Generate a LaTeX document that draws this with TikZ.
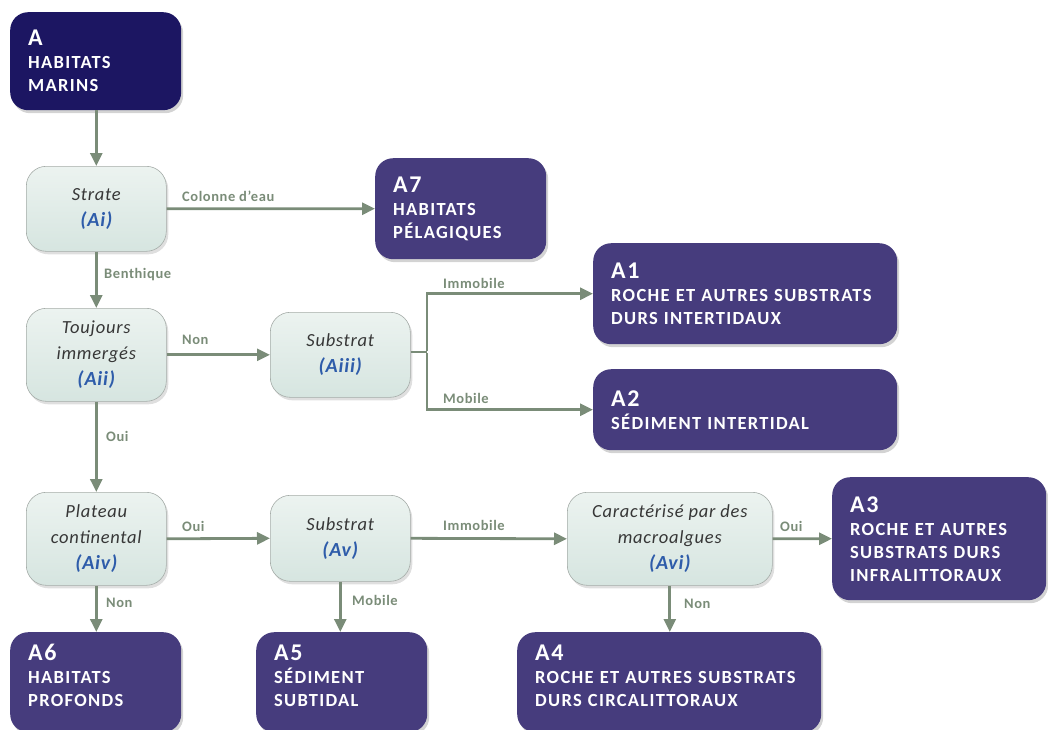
\documentclass[tikz,border=0pt]{standalone}
\usepackage{fontspec}
\setmainfont{Carlito}[UprightFont=Carlito, BoldFont=Carlito Bold, ItalicFont=Carlito Italic, BoldItalicFont=Carlito Bold Italic, LetterSpace=4]
\usetikzlibrary{arrows.meta,shadows}
\definecolor{navy}{RGB}{28,22,98}
\definecolor{purp}{RGB}{70,60,125}
\definecolor{dfill}{RGB}{214,229,224}
\definecolor{dtop}{RGB}{236,243,240}
\definecolor{dborder}{RGB}{165,172,168}
\definecolor{conn}{RGB}{122,140,120}
\definecolor{qblue}{RGB}{46,92,170}
\definecolor{qtext}{RGB}{55,55,55}
\tikzset{
  res/.style={rounded corners=18pt, fill=purp, text=white, anchor=north west,
    align=left, inner xsep=18pt, inner ysep=0pt,
    font=\bfseries\fontsize{18.5}{23}\selectfont\addfontfeature{LetterSpace=7},
    drop shadow={opacity=0.35, shadow xshift=2pt, shadow yshift=-3pt}},
  dec/.style={rounded corners=20pt, draw=dborder, line width=0.6pt,
    top color=dtop, bottom color=dfill, anchor=north west, align=center,
    text=qtext, inner sep=0pt, font=\itshape\fontsize{18.5}{26}\selectfont,
    drop shadow={opacity=0.25, shadow xshift=2pt, shadow yshift=-3pt}},
  conn/.style={draw=conn, line width=2.8pt, -{Triangle[length=13pt,width=12pt]}},
  plain/.style={draw=conn, line width=2.8pt},
  lab/.style={text=conn, font=\bfseries\fontsize{14.5}{16}\selectfont, anchor=west, inner sep=0pt}
}
\newcommand{\ttl}[1]{{\fontsize{24}{23}\selectfont #1}}
\newcommand{\qid}[1]{{\bfseries\color{qblue}\fontsize{20}{26}\selectfont #1}}
\begin{document}
\begin{tikzpicture}[x=1pt,y=-1pt]
\useasboundingbox (0,0) rectangle (1048,729);
% result boxes
\node[res, fill=navy, minimum width=171, minimum height=98, text width=135] (A) at (10,12)
  {\ttl{A}\\HABITATS\\MARINS};
\node[res, minimum width=171, minimum height=101, text width=135] (A7) at (375,158)
  {\ttl{A7}\\HABITATS\\PÉLAGIQUES};
\node[res, minimum width=304, minimum height=101, text width=268] (A1) at (593,243)
  {\ttl{A1}\\ROCHE ET AUTRES SUBSTRATS\\DURS INTERTIDAUX};
\node[res, minimum width=304, minimum height=81, text width=268] (A2) at (593,369)
  {\ttl{A2}\\SÉDIMENT INTERTIDAL};
\node[res, minimum width=214, minimum height=123, text width=178] (A3) at (832,477)
  {\ttl{A3}\\ROCHE ET AUTRES\\SUBSTRATS DURS\\INFRALITTORAUX};
\node[res, minimum width=171, minimum height=100, text width=135, text depth=59pt] (A6) at (10,632)
  {\ttl{A6}\\HABITATS\\PROFONDS};
\node[res, minimum width=171, minimum height=100, text width=135, text depth=59pt] (A5) at (256,632)
  {\ttl{A5}\\SÉDIMENT\\SUBTIDAL};
\node[res, minimum width=304, minimum height=100, text width=268, text depth=59pt] (A4) at (517,632)
  {\ttl{A4}\\ROCHE ET AUTRES SUBSTRATS\\DURS CIRCALITTORAUX};
% decision boxes
\node[dec, minimum width=140, minimum height=85] (Ai) at (26,166) {Strate\\\qid{(Ai)}};
\node[dec, minimum width=140, minimum height=93] (Aii) at (26,308) {Toujours\\immergés\\\qid{(Aii)}};
\node[dec, minimum width=140, minimum height=85] (Aiii) at (270,312) {Substrat\\\qid{(Aiii)}};
\node[dec, minimum width=140, minimum height=93] (Aiv) at (26,492) {Plateau\\continental\\\qid{(Aiv)}};
\node[dec, minimum width=140, minimum height=86] (Av) at (270,495) {Substrat\\\qid{(Av)}};
\node[dec, minimum width=205, minimum height=93] (Avi) at (567,492) {Caractérisé par des\\macroalgues\\\qid{(Avi)}};
% connectors
\draw[conn] (A.south -| Ai.north) -- (Ai.north);
\draw[conn] (Ai.east) -- (A7.west);
\draw[conn] (Ai.south) -- (Aii.north);
\draw[conn] (Aii.east) -- (Aiii.west);
\coordinate (jn) at (427,352);
\draw[plain] (Aiii.east |- jn) -- (jn);
\draw[conn] ([yshift=1.4pt]jn) |- (A1.west);
\draw[conn] ([yshift=-1.4pt]jn) |- (A2.west);
\draw[conn] (Aii.south) -- (Aiv.north);
\draw[conn] (Aiv.east) -- (Av.west);
\draw[conn] (Av.east) -- (Avi.west);
\draw[conn] (Avi.east) -- (A3.west);
\draw[conn] (Aiv.south) -- (Aiv.south |- A6.north);
\draw[conn] (Av.south) -- (Av.south |- A5.north);
\draw[conn] (Avi.south) -- (Avi.south |- A4.north);
% labels
\node[lab] (l1) at (104,275) {Benthique};
\node[lab] (l2) at (182,196) {Colonne d’eau};
\node[lab] (l3) at (182,340) {Non};
\node[lab] (l4) at (443,283) {Immobile};
\node[lab] (l5) at (443,398) {Mobile};
\node[lab] (l6) at (106,436) {Oui};
\node[lab] (l7) at (182,526) {Oui};
\node[lab] (l8) at (443,525) {Immobile};
\node[lab] (l9) at (780,526) {Oui};
\node[lab] (l10) at (106,603) {Non};
\node[lab] (l11) at (352,600) {Mobile};
\node[lab] (l12) at (684,604) {Non};
\end{tikzpicture}
\end{document}
